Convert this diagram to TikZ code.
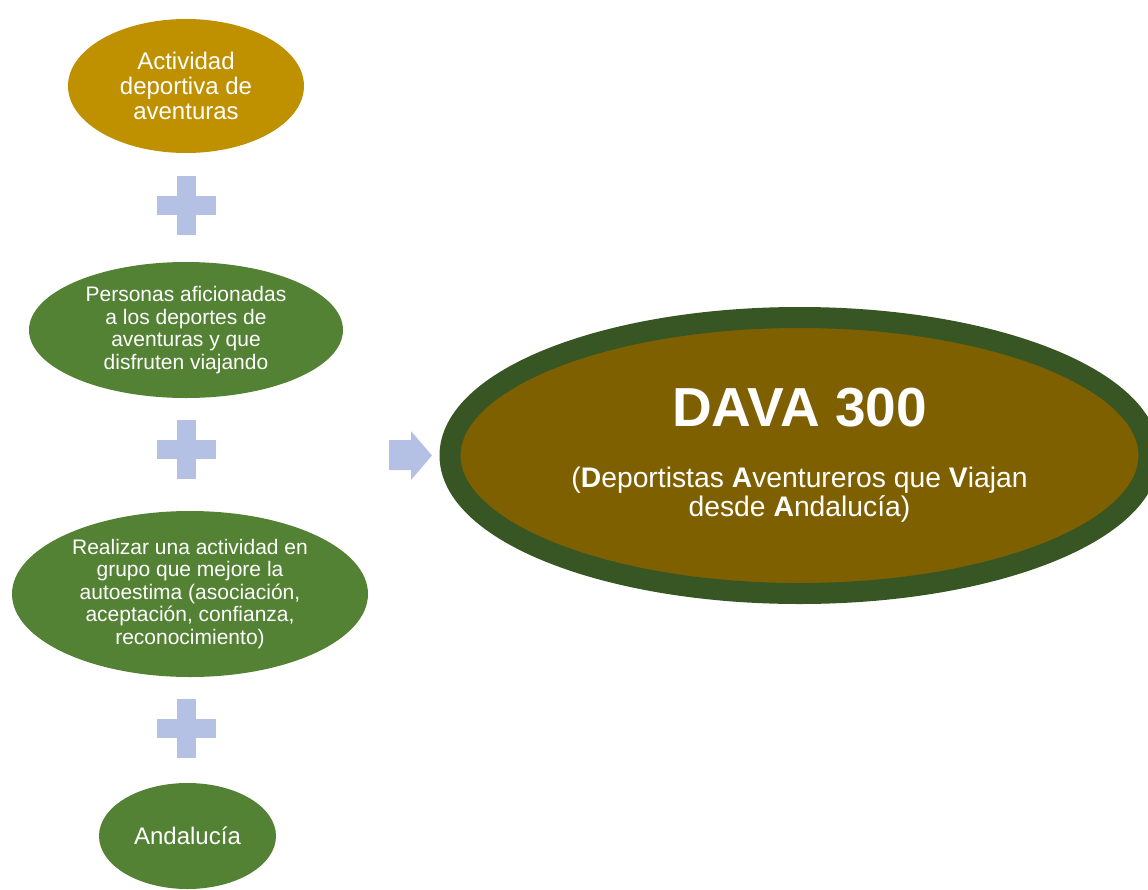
\documentclass[tikz,border=0pt]{standalone}
\usepackage{fontspec}
\setmainfont{Liberation Sans}
\usetikzlibrary{shapes.geometric}
\definecolor{ovalgold}{HTML}{BF9000}
\definecolor{ovalgreen}{HTML}{548235}
\definecolor{davaring}{HTML}{375623}
\definecolor{davafill}{HTML}{7F6000}
\definecolor{plusblue}{HTML}{B4C0E4}
\begin{document}
\begin{tikzpicture}[x=1pt, y=-1pt,
    oval/.style={ellipse, inner sep=0pt, text=white, align=center},
    smalltext/.style={font=\fontsize{21}{22.5}\selectfont},
    plusfill/.style={fill=plusblue}]
    \clip (0,0) rectangle (1148,889);

    % Left column of ovals
    \node[oval, fill=ovalgold, minimum width=236pt, minimum height=134pt,
          font=\fontsize{24}{25}\selectfont] (actividad) at (186,86)
          {Actividad\\deportiva de\\aventuras};
    \node[oval, fill=ovalgreen, minimum width=314pt, minimum height=136pt, smalltext]
          (personas) at (186,330)
          {Personas aficionadas\\a los deportes de\\aventuras y que\\disfruten viajando};
    \node[oval, fill=ovalgreen, minimum width=356pt, minimum height=166pt, smalltext]
          (grupo) at (190,594)
          {Realizar una actividad en\\grupo que mejore la\\autoestima (asociación,\\aceptación, confianza,\\reconocimiento)};
    \node[oval, fill=ovalgreen, minimum width=177pt, minimum height=106pt,
          font=\fontsize{24}{28}\selectfont] (andalucia) at (187.5,836) {Andalucía};

    % Plus signs between the ovals
    \foreach \y in {205.5,449.5,728.5} {
        \fill[plusfill] (177,\y-29.5) rectangle (196,\y+29.5);
        \fill[plusfill] (157,\y-9.5) rectangle (216,\y+9.5);
    }

    % Block arrow towards the result
    \fill[plusfill] (389,440) -- (411,440) -- (411,431) -- (432,455.5)
        -- (411,480) -- (411,470) -- (389,470) -- cycle;

    % Result oval
    \node[oval, draw=davaring, line width=21pt, fill=davafill,
          minimum width=699pt, minimum height=276pt,
          font=\fontsize{28.3}{29}\selectfont] (dava) at (799.5,455.5)
          {{\fontsize{55}{60}\selectfont\bfseries DAVA 300}\\[32pt]
           (\textbf{D}eportistas \textbf{A}ventureros que \textbf{V}iajan\\
           desde \textbf{A}ndalucía)};
\end{tikzpicture}
\end{document}
